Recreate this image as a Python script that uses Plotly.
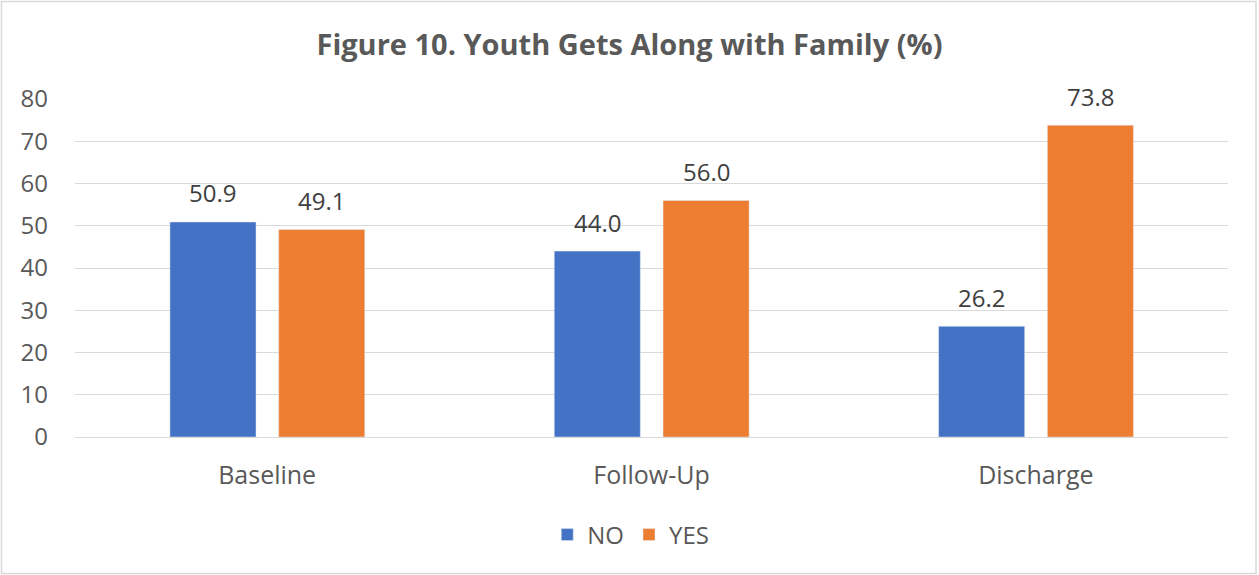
import plotly.graph_objects as go

categories = ["Baseline", "Follow-Up", "Discharge"]
no_values = [50.9, 44.0, 26.2]
yes_values = [49.1, 56.0, 73.8]
y_ticks = [0, 10, 20, 30, 40, 50, 60, 70, 80]

W, H = 1259, 575
ML, MR, MT, MB = 75, 31, 99, 138
FONT = "Open Sans"
BLUE = "#4472C4"
ORANGE = "#ED7D31"

BAR_W = 0.224
NO_OFF = -0.253
YES_OFF = 0.030

fig = go.Figure()
fig.add_trace(go.Bar(name="NO", x=categories, y=no_values, marker_color=BLUE,
                     width=BAR_W, offset=NO_OFF))
fig.add_trace(go.Bar(name="YES", x=categories, y=yes_values, marker_color=ORANGE,
                     width=BAR_W, offset=YES_OFF))

# value labels above each bar
plot_w = W - ML - MR
cat_px = plot_w / len(categories)
for vals, off in ((no_values, NO_OFF), (yes_values, YES_OFF)):
    for c, v in zip(categories, vals):
        fig.add_annotation(x=c, y=v, text=f"{v:.1f}", showarrow=False,
                           xshift=(off + BAR_W / 2) * cat_px, yshift=29,
                           yanchor="middle",
                           font=dict(family=FONT, size=24, color="#404040"))

# chart border
def px_x(p):
    return (p - ML) / plot_w
def px_y(p):
    return (H - MB - p) / (H - MT - MB)

fig.add_shape(type="rect", xref="paper", yref="paper",
              x0=px_x(1.5), x1=px_x(1256), y0=px_y(1.5), y1=px_y(573.5),
              line=dict(color="#D9D9D9", width=1.5), fillcolor="rgba(0,0,0,0)",
              layer="below")

fig.update_layout(
    width=W, height=H,
    margin=dict(l=ML, r=MR, t=MT, b=MB),
    paper_bgcolor="white", plot_bgcolor="white",
    barmode="group",
    title=dict(text="<b>Figure 10. Youth Gets Along with Family (%)</b>",
               x=0.5, xanchor="center", y=1 - 45 / H, yanchor="middle",
               font=dict(family=FONT, size=29, color="#595959")),
    font=dict(family=FONT, color="#595959"),
    showlegend=True,
    legend=dict(orientation="h", x=0.482, xanchor="center", y=px_y(535),
                yanchor="middle", font=dict(family=FONT, size=24, color="#595959"),
                traceorder="normal", itemwidth=30),
    xaxis=dict(showgrid=False, ticks="", showline=False, ticklabelstandoff=21,
               tickfont=dict(family=FONT, size=25, color="#595959")),
    yaxis=dict(range=[0, 80], tickvals=y_ticks, showgrid=True,
               gridcolor="#D9D9D9", gridwidth=1.3, zeroline=True,
               zerolinecolor="#D9D9D9", zerolinewidth=1.3, showline=False,
               ticks="", ticklabelstandoff=26,
               tickfont=dict(family=FONT, size=24, color="#595959")),
)

fig.write_html("out.html")
